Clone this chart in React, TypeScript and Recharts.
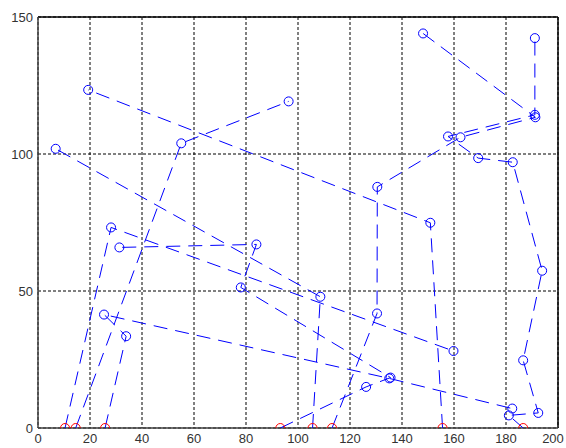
import { ScatterChart, Scatter, XAxis, YAxis, CartesianGrid, ReferenceLine } from "recharts";

const xTicks = [0, 20, 40, 60, 80, 100, 120, 140, 160, 180, 200];
const yTicks = [0, 50, 100, 150];

// start points on the x axis (red), one per route
const depotX = [10.4, 14.5, 25.8, 93.2, 105.6, 113.1, 155.6, 186.6];

// visited points of each route, in order
const route1 = [[28.1, 73.2], [159.8, 28.1]];
const route2 = [[55.1, 103.9], [96.4, 119.2]];
const route3 = [[33.9, 33.5], [25.4, 41.4], [135.1, 18.1], [182.4, 7.1]];
const route4 = [[126.2, 15.0], [135.6, 18.4], [78.0, 51.3], [84.0, 67.0], [31.3, 65.9]];
const route5 = [[108.6, 47.9], [6.8, 101.9]];
const route6 = [[130.4, 41.8], [130.5, 88.0], [162.5, 106.1], [191.3, 113.4], [148.1, 144.0]];
const route7 = [[150.9, 74.9], [19.3, 123.4]];
const route8 = [
  [181.1, 4.6], [192.4, 5.5], [186.6, 24.7], [193.9, 57.4], [182.6, 97.0],
  [169.3, 98.5], [157.7, 106.4], [191.1, 114.3], [191.1, 142.3],
];

const routes = [route1, route2, route3, route4, route5, route6, route7, route8];

const routeData = routes.map((r, i) => [
  { x: depotX[i], y: 0, depot: true },
  ...r.map(([x, y]) => ({ x, y, depot: false })),
]);
const depotData = depotX.map((x) => ({ x, y: 0 }));

const BLUE = "#0000ff";
const RED = "#ff0000";
const FONT = "'Liberation Sans', Arial, sans-serif";

const BlueMark = (props: any) => {
  const { cx, cy, payload } = props;
  if (payload?.depot) return <g />;
  return <circle cx={cx} cy={cy} r={4.5} fill="none" stroke={BLUE} strokeWidth={1} />;
};

const RedMark = (props: any) => {
  const { cx, cy } = props;
  return <circle cx={cx} cy={cy} r={4.5} fill="none" stroke={RED} strokeWidth={1} />;
};

// keep the last label inside the picture
const XTick = (props: any) => {
  const { x, y, payload } = props;
  const px = Math.min(x, 553);
  return (
    <text x={px} y={y + 10} textAnchor="middle" fontSize={13} fill="#333" fontFamily={FONT}>
      {payload.value}
    </text>
  );
};

const yTickStyle = { fontSize: 13, fill: "#333", fontFamily: FONT };

export default function App() {
  return (
    <div style={{ position: "absolute", left: 0, top: 0, width: 566, height: 448, background: "#fff" }}>
      <ScatterChart width={566} height={448} margin={{ top: 17, right: 8, bottom: 0, left: 0 }}>
        <CartesianGrid stroke="#000" strokeDasharray="3 2" />
        <XAxis
          type="number"
          dataKey="x"
          domain={[0, 200]}
          ticks={xTicks}
          interval={0}
          height={20}
          tickSize={0}
          tickMargin={5}
          tick={<XTick />}
          axisLine={{ stroke: "#404040", strokeWidth: 1.5 }}
          allowDataOverflow
        />
        <YAxis
          type="number"
          dataKey="y"
          domain={[0, 150]}
          ticks={yTicks}
          interval={0}
          width={38}
          tickSize={0}
          tickMargin={5}
          tick={yTickStyle}
          axisLine={{ stroke: "#404040", strokeWidth: 1.5 }}
          allowDataOverflow
        />
        <ReferenceLine y={150} stroke="#000" strokeWidth={1.5} />
        <ReferenceLine x={200} stroke="#000" strokeWidth={1.5} />
        {routeData.map((d, i) => (
          <Scatter
            key={i}
            data={d}
            shape={BlueMark}
            line={{ stroke: BLUE, strokeWidth: 1, strokeDasharray: "14 8" }}
            lineJointType="linear"
            isAnimationActive={false}
          />
        ))}
        <Scatter data={depotData} shape={RedMark} isAnimationActive={false} />
      </ScatterChart>
    </div>
  );
}
